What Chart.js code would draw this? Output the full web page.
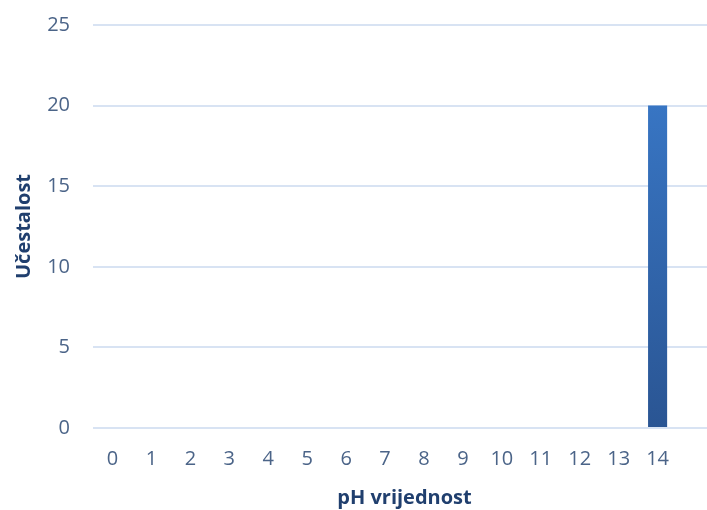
<!DOCTYPE html>
<html>
<head>
<meta charset="utf-8">
<script src="https://cdn.jsdelivr.net/npm/chart.js@4/dist/chart.umd.min.js"></script>
<style>
  html, body { margin: 0; padding: 0; background: #fff; overflow: hidden; }
  #wrap { width: 716px; height: 510px; }
</style>
</head>
<body>
<div id="wrap"><canvas id="phChart" width="716" height="510"></canvas></div>
<script>
// pH histogram - data
var phLabels = ['0', '1', '2', '3', '4', '5', '6', '7', '8', '9', '10', '11', '12', '13', '14', ''];
var frequency = [0, 0, 0, 0, 0, 0, 0, 0, 0, 0, 0, 0, 0, 0, 20, null];
var yTicks = [0, 5, 10, 15, 20, 25];

(function () {
  var ctx = document.getElementById('phChart');

  function barGradient(context) {
    var area = context.chart.chartArea;
    if (!area) return '#3470b8';
    var g = context.chart.ctx.createLinearGradient(0, area.top, 0, area.bottom);
    g.addColorStop(0, '#3b7dcf');
    g.addColorStop(1, '#2a5593');
    return g;
  }

  var tickColor = '#4b6488';
  var titleColor = '#203f6e';

  new Chart(ctx, {
    type: 'bar',
    data: {
      labels: phLabels,
      datasets: [{
        label: 'Učestalost',
        data: frequency,
        backgroundColor: barGradient,
        borderWidth: 0,
        categoryPercentage: 1,
        barPercentage: 0.49
      }]
    },
    options: {
      responsive: false,
      animation: false,
      layout: { padding: { top: 25, left: 0, right: 0, bottom: 0 } },
      plugins: { legend: { display: false }, tooltip: { enabled: false } },
      scales: {
        x: {
          grid: { display: false, drawTicks: false },
          border: { display: false },
          ticks: {
            color: tickColor,
            font: { family: 'Open Sans', size: 20 },
            padding: 19,
            maxRotation: 0,
            autoSkip: false
          },
          title: {
            display: true,
            text: 'pH vrijednost',
            color: titleColor,
            font: { family: 'Open Sans', size: 20, weight: 'bold' },
            padding: { top: 1, bottom: 0 }
          },
          afterFit: function (scale) { scale.height = 82; }
        },
        y: {
          min: 0,
          max: 25,
          afterBuildTicks: function (scale) {
            scale.ticks = yTicks.map(function (v) { return { value: v }; });
          },
          grid: { color: '#d8e3f3', lineWidth: 2, drawTicks: false },
          border: { display: false },
          ticks: {
            color: tickColor,
            font: { family: 'Open Sans', size: 20 },
            padding: 23
          },
          title: {
            display: true,
            text: 'Učestalost',
            color: titleColor,
            font: { family: 'Open Sans', size: 20, weight: 'bold' },
            padding: { top: 12, bottom: 0 }
          },
          afterFit: function (scale) {
            scale.width = 93;
            scale.paddingTop = 12;
            scale.paddingBottom = 12;
          }
        }
      }
    }
  });
})();
</script>
</body>
</html>
